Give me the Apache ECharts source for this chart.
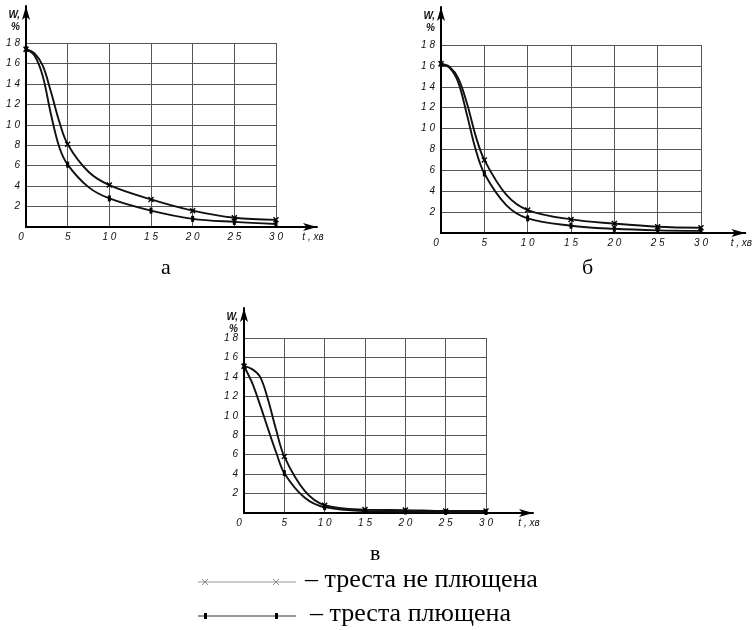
<!DOCTYPE html>
<html>
<head>
<meta charset="utf-8">
<script src="https://cdn.jsdelivr.net/npm/echarts@6/dist/echarts.min.js"></script>
<style>
  html, body { margin: 0; padding: 0; background: #fff; }
  #chart { width: 753px; height: 630px; }
</style>
</head>
<body>
<div id="chart"></div>
<script>
// час сушіння, хв
const times = [0, 1, 2, 3, 4, 5, 7.5, 10, 15, 20, 25, 30]

// а
const wA_raw = [17.4, 17.0, 15.8, 13.2, 10.3, 8.1, 5.4, 4.1, 2.7, 1.6, 0.9, 0.7]
const wA_flat = [17.4, 16.8, 14.8, 11.0, 7.8, 6.1, 3.9, 2.8, 1.6, 0.8, 0.5, 0.3]
// б
const wB_raw = [16.2, 15.9, 14.8, 12.4, 9.3, 7.0, 3.7, 2.2, 1.3, 0.9, 0.6, 0.5]
const wB_flat = [16.2, 15.8, 14.4, 11.3, 8.0, 5.7, 2.7, 1.4, 0.7, 0.4, 0.25, 0.2]
// в
const wC_raw = [15.1, 14.8, 14.0, 11.6, 8.5, 5.8, 2.3, 0.8, 0.35, 0.3, 0.2, 0.2]
const wC_flat = [15.1, 13.4, 11.1, 8.6, 6.2, 4.1, 1.6, 0.6, 0.2, 0.15, 0.1, 0.1]

const panelNames = ['а', 'б', 'в']
const legendNames = ['треста не плющена', 'треста плющена']

const chart = echarts.init(document.getElementById('chart'))

const axisFont = { fontFamily: 'Liberation Sans', fontStyle: 'italic', fontSize: 10, color: '#111' }
const spaced = v => String(v).split('').join(' ')
const X_MARK = 'path://M0,0L10,10M10,0L0,10'

// розміри панелей: поле з сіткою + поле для осей зі стрілками
const panels = [
  { plot: { left: 26, top: 43, width: 250, height: 184 }, axes: { left: 26, top: 6, width: 291, height: 221 } },
  { plot: { left: 441, top: 45, width: 260, height: 188 }, axes: { left: 441, top: 7, width: 309, height: 226 } },
  { plot: { left: 244, top: 338, width: 242, height: 175 }, axes: { left: 244, top: 308, width: 289, height: 205 } }
]
const dataSets = [[wA_raw, wA_flat], [wB_raw, wB_flat], [wC_raw, wC_flat]]

const grid = []
const xAxis = []
const yAxis = []
const series = []

panels.forEach((p, i) => {
  grid.push(p.plot, p.axes)
  const gi = i * 2

  // сітка з даними
  xAxis.push({
    type: 'value', gridIndex: gi, min: 0, max: 30, interval: 5,
    axisLine: { show: false }, axisTick: { show: false },
    splitLine: { lineStyle: { color: '#555', width: 1 } },
    axisLabel: {
      ...axisFont, margin: 5, showMinLabel: true,
      formatter: v => v === 0 ? '{o|0}' : spaced(v),
      rich: { o: { ...axisFont, padding: [0, 10, 0, 0] } }
    }
  })
  yAxis.push({
    type: 'value', gridIndex: gi, min: 0, max: 18, interval: 2,
    axisLine: { show: false }, axisTick: { show: false },
    splitLine: { lineStyle: { color: '#555', width: 1 } },
    axisLabel: { ...axisFont, margin: 6, formatter: v => v === 0 ? '' : spaced(v) }
  })

  // осі зі стрілками
  const arrowLine = {
    show: true, symbol: ['none', 'arrow'], symbolSize: [6, 14],
    lineStyle: { color: '#000', width: 2 }
  }
  xAxis.push({
    type: 'value', gridIndex: gi + 1, min: 0, max: 1,
    axisLine: arrowLine, axisTick: { show: false }, axisLabel: { show: false }, splitLine: { show: false },
    name: 't , хв', nameLocation: 'end', nameGap: -4,
    nameTextStyle: { ...axisFont, align: 'center', verticalAlign: 'top', padding: [5, 0, 0, 0] }
  })
  yAxis.push({
    type: 'value', gridIndex: gi + 1, min: 0, max: 1,
    axisLine: arrowLine, axisTick: { show: false }, axisLabel: { show: false }, splitLine: { show: false },
    name: 'W,\n%', nameLocation: 'end', nameGap: -3,
    nameTextStyle: { ...axisFont, fontWeight: 'bold', align: 'right', verticalAlign: 'top', lineHeight: 12, padding: [0, 6, 0, 0] }
  })

  const [raw, flat] = dataSets[i]
  series.push({
    name: legendNames[0], type: 'line', xAxisIndex: gi, yAxisIndex: gi,
    smooth: 0.35, data: times.map((t, k) => [t, raw[k]]),
    symbol: v => v[0] % 5 === 0 ? X_MARK : 'none', symbolSize: 5,
    itemStyle: { color: '#000', borderColor: '#000', borderWidth: 1.4 },
    lineStyle: { color: '#111', width: 1.9 }, z: 3
  }, {
    name: legendNames[1], type: 'line', xAxisIndex: gi, yAxisIndex: gi,
    smooth: 0.35, data: times.map((t, k) => [t, flat[k]]),
    symbol: v => v[0] % 5 === 0 ? 'rect' : 'none', symbolSize: [3, 6],
    itemStyle: { color: '#000' },
    lineStyle: { color: '#111', width: 1.9 }, z: 3
  })
})

const serif = { fontFamily: 'Liberation Serif', fontSize: 22, fill: '#000' }
const legendFont = { fontFamily: 'Liberation Serif', fontSize: 26, fill: '#000' }
const cross = (cx, cy, color) => [
  { type: 'line', shape: { x1: cx - 3, y1: cy - 3, x2: cx + 3, y2: cy + 3 }, style: { stroke: color, lineWidth: 1 } },
  { type: 'line', shape: { x1: cx + 3, y1: cy - 3, x2: cx - 3, y2: cy + 3 }, style: { stroke: color, lineWidth: 1 } }
]

chart.setOption({
  backgroundColor: '#fff',
  animation: false,
  grid,
  xAxis,
  yAxis,
  series,
  graphic: [
    { type: 'text', left: 161, top: 257, style: { ...serif, text: panelNames[0] } },
    { type: 'text', left: 582, top: 257, style: { ...serif, text: panelNames[1] } },
    { type: 'text', left: 370, top: 543, style: { ...serif, text: panelNames[2] } },
    // умовні позначення
    { type: 'line', shape: { x1: 198, y1: 582, x2: 296, y2: 582 }, style: { stroke: '#999', lineWidth: 1 } },
    ...cross(205, 582, '#888'),
    ...cross(276, 582, '#888'),
    { type: 'text', left: 305, top: 567, style: { ...legendFont, text: '– ' + legendNames[0] } },
    { type: 'line', shape: { x1: 198, y1: 616, x2: 296, y2: 616 }, style: { stroke: '#333', lineWidth: 1 } },
    { type: 'rect', shape: { x: 204, y: 613, width: 3, height: 6 }, style: { fill: '#000' } },
    { type: 'rect', shape: { x: 275, y: 613, width: 3, height: 6 }, style: { fill: '#000' } },
    { type: 'text', left: 310, top: 601, style: { ...legendFont, text: '– ' + legendNames[1] } }
  ]
})
</script>
</body>
</html>
